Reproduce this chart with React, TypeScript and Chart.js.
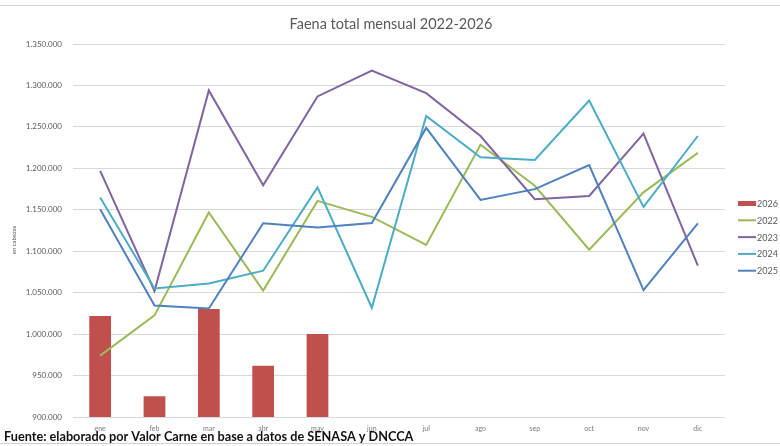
import React, { useEffect, useRef } from "react";
import { Chart, registerables } from "chart.js";

Chart.register(...registerables);

const months = ["ene", "feb", "mar", "abr", "may", "jun", "jul", "ago", "sep", "oct", "nov", "dic"];
const s2026 = [1022000, 925100, 1030300, 961800, 1000000];
const s2022 = [974000, 1022600, 1146800, 1052500, 1160700, 1141500, 1107600, 1228500, 1179000, 1101900, 1171000, 1218600];
const s2023 = [1197000, 1052000, 1294000, 1179500, 1286700, 1318000, 1290700, 1239000, 1162700, 1166700, 1241900, 1082500];
const s2024 = [1164800, 1055000, 1061000, 1076500, 1177000, 1031800, 1263300, 1213300, 1210000, 1281800, 1153500, 1239000];
const s2025 = [1150500, 1034600, 1031000, 1133800, 1128600, 1134000, 1248800, 1161900, 1174900, 1204000, 1053000, 1133500];
const yMin = 900000;
const yMax = 1350000;
const yStep = 50000;
const title = "Faena total mensual 2022-2026";
const yTitle = "en cabezas";
const footer = "Fuente: elaborado por Valor Carne en base a datos de SENASA y DNCCA";

const C26 = "#C0504D";
const C22 = "#9BBB59";
const C23 = "#8064A2";
const C24 = "#4BACC6";
const C25 = "#4F81BD";
const GREY = "#595959";
const FONT = "Lato, 'Open Sans', sans-serif";

const fmt = (v: number) => String(v).replace(/\B(?=(\d{3})+(?!\d))/g, ".");

const decor = {
  id: "decor",
  afterDraw(chart: any) {
    const ctx = chart.ctx;
    ctx.save();
    // frame lines
    ctx.strokeStyle = "#d0d0d0";
    ctx.lineWidth = 1;
    ctx.beginPath();
    ctx.moveTo(0, 5.5);
    ctx.lineTo(780, 5.5);
    ctx.stroke();
    ctx.beginPath();
    ctx.moveTo(0, 443.5);
    ctx.lineTo(780, 443.5);
    ctx.stroke();
    // title
    ctx.fillStyle = GREY;
    ctx.font = `14.5px ${FONT}`;
    ctx.textAlign = "center";
    ctx.textBaseline = "middle";
    ctx.fillText(title, 391, 24);
    // y title
    ctx.save();
    ctx.translate(14, 240);
    ctx.rotate(-Math.PI / 2);
    ctx.font = `6px ${FONT}`;
    ctx.fillText(yTitle, 0, 0);
    ctx.restore();
    // legend
    const items = [
      { label: "2026", color: C26, bar: true },
      { label: "2022", color: C22, bar: false },
      { label: "2023", color: C23, bar: false },
      { label: "2024", color: C24, bar: false },
      { label: "2025", color: C25, bar: false },
    ];
    ctx.font = `9px ${FONT}`;
    ctx.textAlign = "left";
    items.forEach((it, i) => {
      const y = 203.5 + i * 16.8;
      ctx.fillStyle = it.color;
      if (it.bar) {
        ctx.fillRect(738, y - 2.5, 18, 5);
      } else {
        ctx.fillRect(738, y - 1, 18, 2);
      }
      ctx.fillStyle = GREY;
      ctx.fillText(it.label, 757, y + 0.5);
    });
    // footer
    ctx.fillStyle = "#111111";
    ctx.font = `bold 12.7px ${FONT}`;
    ctx.textAlign = "left";
    ctx.textBaseline = "middle";
    ctx.fillText(footer, 4, 436.5);
    ctx.restore();
  },
};

export default function App() {
  const ref = useRef<HTMLCanvasElement | null>(null);
  useEffect(() => {
    if (!ref.current) return;
    const chart = new Chart(ref.current, {
      type: "bar",
      data: {
        labels: months,
        datasets: [
          { type: "bar", label: "2026", data: s2026, backgroundColor: C26, barPercentage: 0.4, categoryPercentage: 1, order: 5 },
          { type: "line", label: "2022", data: s2022, borderColor: C22, borderWidth: 2, pointRadius: 0, tension: 0, order: 4 },
          { type: "line", label: "2023", data: s2023, borderColor: C23, borderWidth: 2, pointRadius: 0, tension: 0, order: 3 },
          { type: "line", label: "2024", data: s2024, borderColor: C24, borderWidth: 2, pointRadius: 0, tension: 0, order: 2 },
          { type: "line", label: "2025", data: s2025, borderColor: C25, borderWidth: 2, pointRadius: 0, tension: 0, order: 1 },
        ] as any,
      },
      options: {
        responsive: false,
        animation: false,
        layout: { padding: { top: 44, right: 55, left: 0, bottom: 0 } },
        plugins: { legend: { display: false }, title: { display: false }, tooltip: { enabled: false } },
        scales: {
          x: {
            offset: true,
            grid: { display: false, drawTicks: false },
            border: { display: false },
            ticks: { color: "#7a7a7a", font: { family: FONT, size: 7 }, padding: 8, maxRotation: 0 },
            afterFit: (s: any) => { s.height = 29; },
          },
          y: {
            min: yMin,
            max: yMax,
            ticks: { stepSize: yStep, color: GREY, font: { family: FONT, size: 8 }, padding: 11, callback: (v: any) => fmt(Number(v)) },
            grid: { color: "#d9d9d9", lineWidth: 1, drawTicks: false },
            border: { display: false },
            afterFit: (s: any) => { s.width = 73; },
          },
        },
      },
      plugins: [decor],
    });
    return () => chart.destroy();
  }, []);
  return (
    <div style={{ position: "fixed", left: 0, top: 0, width: 780, height: 446, background: "#fff" }}>
      <canvas ref={ref} width={780} height={446} style={{ width: 780, height: 446 }} />
    </div>
  );
}
